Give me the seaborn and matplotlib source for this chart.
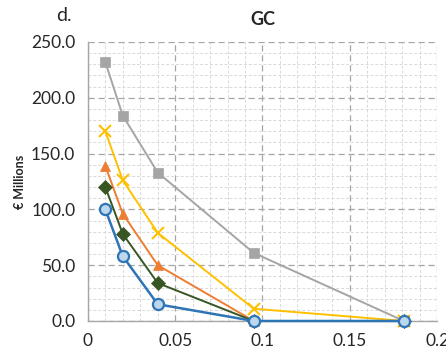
import pandas as pd
import numpy as np
import matplotlib
matplotlib.use("Agg")
import matplotlib.pyplot as plt
import seaborn as sns
from matplotlib.ticker import MultipleLocator, FuncFormatter

# x values and series
x_vals = [0.01, 0.02, 0.04, 0.095, 0.181]
gray_vals = [232, 184, 133, 61, 0]
yellow_vals = [170, 126, 79, 11, 0]
orange_vals = [139, 96, 50, 0, 0]
green_vals = [120, 78, 34, 0, 0]
blue_vals = [100, 58, 15, 0, 0]

series_names = ['gray', 'yellow', 'orange', 'green', 'blue']
series_vals = [gray_vals, yellow_vals, orange_vals, green_vals, blue_vals]

rows = []
for name, vals in zip(series_names, series_vals):
    for x, y in zip(x_vals, vals):
        rows.append({'x': x, 'y': y, 'series': name})
df = pd.DataFrame(rows)

palette = {'gray': '#a5a5a5', 'yellow': '#ffc000', 'orange': '#ed7d31',
           'green': '#375623', 'blue': '#2e75b6'}
markers = {'gray': 's', 'yellow': 'x', 'orange': '^', 'green': 'D', 'blue': 'o'}

sns.set_style("white")
plt.rcParams['font.family'] = ['Lato', 'DejaVu Sans']

fig = plt.figure(figsize=(4.46, 3.51), dpi=100)
ax = fig.add_axes([0.197, 0.0855, 0.783, 0.795])

# minor / major grid first
ax.xaxis.set_major_locator(MultipleLocator(0.05))
ax.xaxis.set_minor_locator(MultipleLocator(0.01))
ax.yaxis.set_major_locator(MultipleLocator(50))
ax.yaxis.set_minor_locator(MultipleLocator(10))
ax.grid(which='minor', color='#d9d9d9', linestyle=(0, (3, 2)), linewidth=0.7)
ax.grid(which='major', color='#a6a6a6', linestyle=(0, (5, 3)), linewidth=0.9)
ax.set_axisbelow(True)

for name in series_names:
    sub = df[df['series'] == name]
    ms = 7 if name != 'blue' else 8
    kw = dict(marker=markers[name], markersize=ms, color=palette[name], linewidth=1.4,
              markeredgecolor=palette[name])
    if name == 'blue':
        kw.update(markerfacecolor='#bdd7ee', markeredgewidth=1.6, linewidth=1.8)
    elif name == 'yellow':
        kw.update(markeredgewidth=1.5, markersize=8)
    else:
        kw.update(markeredgewidth=0.5)
    sns.lineplot(data=sub, x='x', y='y', ax=ax, legend=False, zorder=3, clip_on=False, **kw)

ax.set_xlim(0, 0.2)
ax.set_ylim(0, 250)

def xfmt(v, pos):
    s = f"{v:.2f}".rstrip('0').rstrip('.')
    return s
ax.xaxis.set_major_formatter(FuncFormatter(xfmt))
ax.yaxis.set_major_formatter(FuncFormatter(lambda v, p: f"{v:.1f}"))

for side in ['top', 'right']:
    ax.spines[side].set_visible(False)
for side in ['left', 'bottom']:
    ax.spines[side].set_color('#a6a6a6')
    ax.spines[side].set_linewidth(1.0)
ax.tick_params(axis='both', which='major', direction='out', length=5, color='#a6a6a6',
               labelsize=12.5, labelcolor='#262626', pad=4)
ax.tick_params(axis='both', which='minor', length=0)

ax.set_xlabel('')
ax.set_ylabel('€ Millions', fontsize=9, fontweight='bold', color='#262626', labelpad=4)
ax.set_title('GC', fontsize=13, fontweight='bold', color='#262626', pad=12)
fig.text(0.125, 0.94, 'd.', fontsize=14, color='#262626')

fig.savefig('out.png', dpi=100)
